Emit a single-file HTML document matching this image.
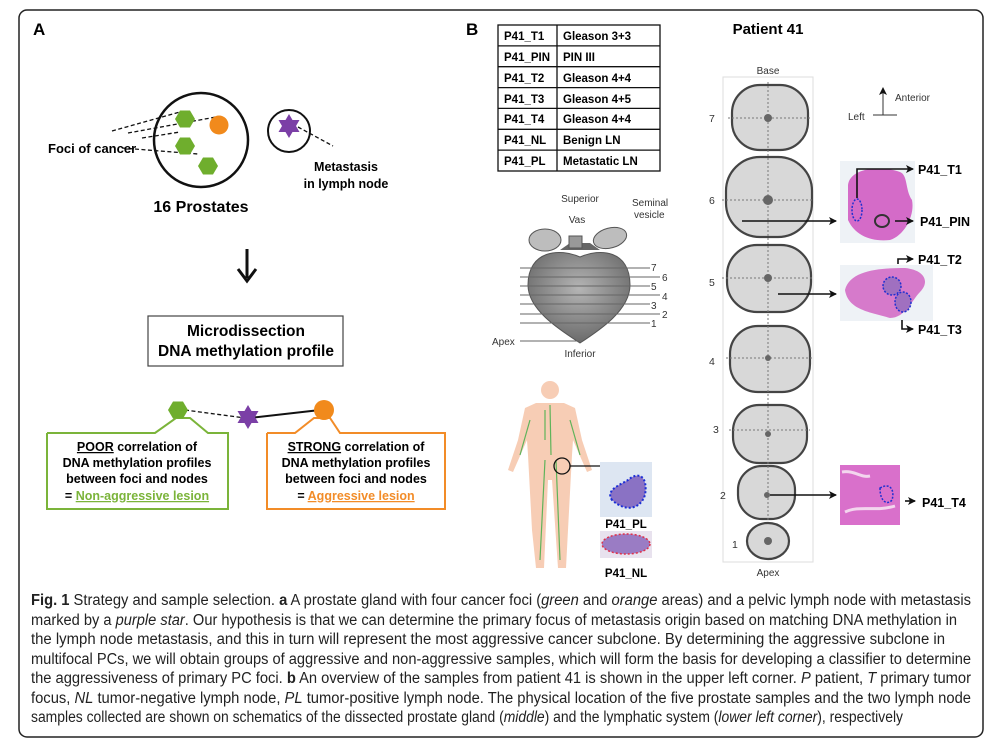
<!DOCTYPE html>
<html><head><meta charset="utf-8"><style>
html,body{margin:0;padding:0;background:#fff}
svg{display:block}
text{font-family:"Liberation Sans",Arial,sans-serif}
.b{font-weight:bold}
.cap{font-family:"Liberation Sans Narrow","Liberation Sans",sans-serif;font-size:15.5px;fill:#222}
</style></head><body>
<svg width="1003" height="745" viewBox="0 0 1003 745" xmlns="http://www.w3.org/2000/svg">
<defs>
<marker id="ah" markerWidth="8" markerHeight="8" refX="7" refY="4" orient="auto" markerUnits="userSpaceOnUse"><path d="M0,0 L8,4 L0,8 L2,4Z" fill="#111"/></marker>
<radialGradient id="hg" cx="0.5" cy="0.4" r="0.6"><stop offset="0" stop-color="#b5b5b5"/><stop offset="1" stop-color="#6a6a6a"/></radialGradient>
</defs>
<rect x="19" y="10" width="964" height="727" rx="8" fill="#fff" stroke="#222" stroke-width="1.5"/>

<!-- PANEL A -->
<text x="33" y="35" class="b" font-size="17">A</text>
<circle cx="201" cy="140" r="47" fill="none" stroke="#111" stroke-width="2.5"/>
<g stroke="#111" stroke-width="1.3" stroke-dasharray="4,2.5" fill="none">
<line x1="112" y1="131" x2="180" y2="112"/>
<line x1="128" y1="133" x2="216" y2="117"/>
<line x1="142" y1="138" x2="180" y2="132"/>
<line x1="122" y1="148" x2="198" y2="154"/>
<line x1="298" y1="127" x2="333" y2="146"/>
</g>
<g fill="#6fae2d">
<polygon points="175,119 180,110.5 190,110.5 195,119 190,127.5 180,127.5"/>
<polygon points="175,146 180,137.5 190,137.5 195,146 190,154.5 180,154.5"/>
<polygon points="198,166 203,157.5 213,157.5 218,166 213,174.5 203,174.5"/>
</g>
<circle cx="219" cy="125" r="9.5" fill="#f18a1c"/>
<circle cx="289" cy="131" r="21" fill="none" stroke="#111" stroke-width="2"/>
<polygon points="289,114 292.5,120 299.5,120 296,126 299.5,132 292.5,132 289,138 285.5,132 278.5,132 282,126 278.5,120 285.5,120" fill="#7b3fa6"/>
<text x="48" y="153" class="b" font-size="13">Foci of cancer</text>
<text x="346" y="171" class="b" font-size="12.5" text-anchor="middle">Metastasis</text>
<text x="346" y="188" class="b" font-size="12.5" text-anchor="middle">in lymph node</text>
<text x="201" y="212" class="b" font-size="16" text-anchor="middle">16 Prostates</text>
<line x1="247" y1="249" x2="247" y2="278" stroke="#111" stroke-width="3"/>
<path d="M238,269 L247,281 L256,269" fill="none" stroke="#111" stroke-width="3"/>
<rect x="148" y="316" width="195" height="50" fill="#fff" stroke="#444" stroke-width="1.2"/>
<text x="246" y="336" class="b" font-size="15.5" text-anchor="middle">Microdissection</text>
<text x="246" y="356" class="b" font-size="15.5" text-anchor="middle">DNA methylation profile</text>
<line x1="185" y1="410" x2="245" y2="418" stroke="#111" stroke-width="1.3" stroke-dasharray="4,2.5"/>
<line x1="250" y1="418" x2="320" y2="410" stroke="#111" stroke-width="2"/>
<polyline points="47,433 155,433 176,418 190,418 208,433 228,433 228,509 47,509 47,433" fill="#fff" stroke="#7bb43a" stroke-width="2"/>
<polyline points="267,433 295,433 314,418 330,418 340,433 445,433 445,509 267,509 267,433" fill="#fff" stroke="#f28c28" stroke-width="2"/>
<polygon points="168,410 173,401.5 183,401.5 188,410 183,418.5 173,418.5" fill="#6fae2d"/>
<circle cx="324" cy="410" r="10" fill="#f18a1c"/>
<polygon points="248,405 251.5,411 258.5,411 255,417 258.5,423 251.5,423 248,429 244.5,423 237.5,423 241,417 237.5,411 244.5,411" fill="#7b3fa6"/>
<g class="b" font-size="12.5" text-anchor="middle">
<text x="137" y="451"><tspan text-decoration="underline">POOR</tspan> correlation of</text>
<text x="137" y="467">DNA methylation profiles</text>
<text x="137" y="483">between foci and nodes</text>
<text x="137" y="500">= <tspan fill="#7bb43a" text-decoration="underline">Non-aggressive lesion</tspan></text>
<text x="356" y="451"><tspan text-decoration="underline">STRONG</tspan> correlation of</text>
<text x="356" y="467">DNA methylation profiles</text>
<text x="356" y="483">between foci and nodes</text>
<text x="356" y="500">= <tspan fill="#f28c28" text-decoration="underline">Aggressive lesion</tspan></text>
</g>

<!-- PANEL B -->
<text x="466" y="35" class="b" font-size="17">B</text>
<g stroke="#111" stroke-width="1.3" fill="none">
<rect x="498" y="25" width="162" height="146"/>
<line x1="557" y1="25" x2="557" y2="171"/>
<line x1="498" y1="45.9" x2="660" y2="45.9"/><line x1="498" y1="66.7" x2="660" y2="66.7"/>
<line x1="498" y1="87.6" x2="660" y2="87.6"/><line x1="498" y1="108.4" x2="660" y2="108.4"/>
<line x1="498" y1="129.3" x2="660" y2="129.3"/><line x1="498" y1="150.1" x2="660" y2="150.1"/>
</g>
<g class="b" font-size="11.5">
<text x="504" y="40">P41_T1</text><text x="563" y="40">Gleason 3+3</text>
<text x="504" y="61">P41_PIN</text><text x="563" y="61">PIN III</text>
<text x="504" y="82">P41_T2</text><text x="563" y="82">Gleason 4+4</text>
<text x="504" y="103">P41_T3</text><text x="563" y="103">Gleason 4+5</text>
<text x="504" y="123">P41_T4</text><text x="563" y="123">Gleason 4+4</text>
<text x="504" y="144">P41_NL</text><text x="563" y="144">Benign LN</text>
<text x="504" y="165">P41_PL</text><text x="563" y="165">Metastatic LN</text>
</g>
<text x="768" y="34" class="b" font-size="15" text-anchor="middle">Patient 41</text>

<!-- prostate side -->
<g font-size="10" fill="#333">
<text x="580" y="202" text-anchor="middle">Superior</text>
<text x="632" y="206">Seminal</text>
<text x="634" y="218">vesicle</text>
<text x="577" y="223" text-anchor="middle">Vas</text>
<text x="492" y="345">Apex</text>
<text x="580" y="357" text-anchor="middle">Inferior</text>
<text x="651" y="271">7</text><text x="662" y="281">6</text><text x="651" y="290">5</text><text x="662" y="300">4</text><text x="651" y="309">3</text><text x="662" y="318">2</text><text x="651" y="327">1</text>
</g>
<g fill="#bdbdbd" stroke="#555" stroke-width="1">
<ellipse cx="545" cy="240" rx="16" ry="11"/><ellipse cx="610" cy="238" rx="17" ry="10" transform="rotate(-15 610 238)"/>
<path d="M560,250 L600,250 L590,243 L570,243Z" fill="#666" stroke="none"/>
<rect x="569" y="236" width="13" height="12" fill="#999"/>
</g>
<path d="M580,257 C560,248 528,250 528,285 C528,310 560,330 580,343 C600,330 630,310 630,285 C630,250 600,248 580,257Z" fill="url(#hg)" stroke="#555"/>
<g stroke="#666" stroke-width="1">
<line x1="520" y1="268" x2="650" y2="268"/><line x1="520" y1="277" x2="660" y2="277"/><line x1="520" y1="286" x2="650" y2="286"/><line x1="520" y1="295" x2="660" y2="295"/><line x1="520" y1="304" x2="650" y2="304"/><line x1="520" y1="314" x2="660" y2="314"/><line x1="520" y1="323" x2="650" y2="323"/><line x1="520" y1="341" x2="580" y2="341"/>
</g>

<!-- body -->
<g fill="#f7cdb5">
<circle cx="550" cy="390" r="9"/>
<path d="M536,403 L564,403 L575,408 L582,440 L592,470 L587,472 L573,440 L572,455 L568,530 L566,568 L558,568 L552,480 L548,480 L544,568 L536,568 L532,530 L528,455 L527,440 L513,472 L508,470 L518,440 L525,408Z"/>
</g>
<g stroke="#5fb35a" stroke-width="1.2" fill="none">
<path d="M550,405 L551,455 M545,410 L545,440 M530,420 L520,455 M570,420 L580,455 M545,460 L540,560 M556,460 L560,560"/>
</g>
<circle cx="562" cy="466" r="8" fill="none" stroke="#111" stroke-width="1.3"/>
<polyline points="570,466 623,466 623,476" fill="none" stroke="#111" stroke-width="1.3" marker-end="url(#ah)"/>
<rect x="600" y="462" width="52" height="55" fill="#dde6f2"/>
<path d="M612,500 C605,490 620,485 628,480 C640,470 648,478 645,495 C640,510 625,512 612,500Z" fill="#8a72c4" stroke="#1b2fd6" stroke-width="2" stroke-dasharray="2,2"/>
<text x="626" y="528" class="b" font-size="11.5" text-anchor="middle">P41_PL</text>
<rect x="600" y="531" width="52" height="27" fill="#e8e2ee"/>
<ellipse cx="626" cy="544" rx="24" ry="10" fill="#9a7cc4" stroke="#e0304a" stroke-width="1.5" stroke-dasharray="2,2"/>
<text x="626" y="577" class="b" font-size="11.5" text-anchor="middle">P41_NL</text>

<!-- slices -->
<rect x="723" y="77" width="90" height="485" fill="none" stroke="#ddd" stroke-width="1"/>
<text x="768" y="74" font-size="10" fill="#333" text-anchor="middle">Base</text>
<text x="768" y="576" font-size="10" fill="#333" text-anchor="middle">Apex</text>
<g fill="#d8d8d8" stroke="#444" stroke-width="2.2">
<rect x="732" y="85" width="76" height="65" rx="28"/>
<rect x="726" y="157" width="86" height="80" rx="34"/>
<rect x="727" y="245" width="84" height="67" rx="30"/>
<rect x="730" y="326" width="80" height="66" rx="28"/>
<rect x="733" y="405" width="74" height="58" rx="26"/>
<rect x="738" y="466" width="57" height="53" rx="24"/>
<ellipse cx="768" cy="541" rx="21" ry="18"/>
</g>
<g stroke="#777" stroke-width="1" stroke-dasharray="2,2">
<line x1="768" y1="82" x2="768" y2="520"/>
<line x1="728" y1="118" x2="810" y2="118"/><line x1="722" y1="200" x2="814" y2="200"/><line x1="722" y1="278" x2="814" y2="278"/><line x1="726" y1="358" x2="812" y2="358"/><line x1="729" y1="430" x2="810" y2="430"/>
</g>
<g fill="#666"><circle cx="768" cy="118" r="4"/><circle cx="768" cy="200" r="5"/><circle cx="768" cy="278" r="4"/><circle cx="768" cy="358" r="3"/><circle cx="768" cy="434" r="3"/><circle cx="767" cy="495" r="3"/><circle cx="768" cy="541" r="4"/></g>
<g font-size="10.5" fill="#333">
<text x="709" y="122">7</text><text x="709" y="204">6</text><text x="709" y="286">5</text><text x="709" y="365">4</text><text x="713" y="433">3</text><text x="720" y="499">2</text><text x="732" y="548">1</text>
</g>
<!-- compass -->
<line x1="883" y1="115" x2="883" y2="88" stroke="#333" stroke-width="1" marker-end="url(#ah)"/>
<line x1="873" y1="115" x2="897" y2="115" stroke="#333" stroke-width="1"/>
<text x="895" y="101" font-size="10" fill="#333">Anterior</text>
<text x="848" y="120" font-size="10" fill="#333">Left</text>
<!-- histology -->
<rect x="840" y="161" width="75" height="82" fill="#eef2f6"/>
<path d="M848,185 C850,168 880,165 900,172 C908,175 905,190 912,200 C915,215 905,235 890,240 C870,242 855,235 848,220Z" fill="#d46bc8"/>
<ellipse cx="857" cy="210" rx="5" ry="11" fill="none" stroke="#2030d0" stroke-width="1.5" stroke-dasharray="2,1.5"/>
<ellipse cx="882" cy="221" rx="7" ry="6" fill="none" stroke="#333" stroke-width="2"/>
<rect x="840" y="265" width="93" height="56" fill="#eef2f6"/>
<path d="M845,290 C850,270 880,268 905,268 C925,270 930,282 920,292 C912,300 905,318 890,318 C870,312 848,310 845,290Z" fill="#d67acb"/>
<ellipse cx="892" cy="286" rx="9" ry="9" fill="#a070c0" stroke="#2030d0" stroke-width="1.5" stroke-dasharray="2,1.5"/>
<ellipse cx="903" cy="302" rx="8" ry="10" fill="#a070c0" stroke="#2030d0" stroke-width="1.5" stroke-dasharray="2,1.5"/>
<rect x="840" y="465" width="60" height="60" fill="#d970cb"/>
<path d="M842,472 C855,470 860,478 870,476 M845,512 C860,505 875,512 895,506" stroke="#f3d6ee" stroke-width="3" fill="none"/>
<path d="M880,488 C890,482 895,490 892,500 C888,505 880,503 880,488Z" fill="none" stroke="#2030d0" stroke-width="1.5" stroke-dasharray="2,1.5"/>
<g stroke="#111" stroke-width="1.6" fill="none">
<polyline points="742,221 836,221" marker-end="url(#ah)"/>
<polyline points="778,294 836,294" marker-end="url(#ah)"/>
<polyline points="770,495 836,495" marker-end="url(#ah)"/>
<polyline points="857,198 857,169 913,169" marker-end="url(#ah)"/>
<polyline points="895,221 913,221" marker-end="url(#ah)"/>
<polyline points="898,264 898,259 913,259" marker-end="url(#ah)"/>
<polyline points="902,320 902,329 913,329" marker-end="url(#ah)"/>
<polyline points="905,501 915,501" marker-end="url(#ah)"/>
</g>
<g class="b" font-size="12.5">
<text x="918" y="174">P41_T1</text>
<text x="920" y="226">P41_PIN</text>
<text x="918" y="264">P41_T2</text>
<text x="918" y="334">P41_T3</text>
<text x="922" y="507">P41_T4</text>
</g>

<!-- caption -->
<g class="cap">
<text x="31" y="605" textLength="940" lengthAdjust="spacingAndGlyphs"><tspan font-weight="bold">Fig. 1</tspan> Strategy and sample selection. <tspan font-weight="bold">a</tspan> A prostate gland with four cancer foci (<tspan font-style="italic">green</tspan> and <tspan font-style="italic">orange</tspan> areas) and a pelvic lymph node with metastasis</text>
<text x="31" y="625" textLength="926" lengthAdjust="spacingAndGlyphs">marked by a <tspan font-style="italic">purple star</tspan>. Our hypothesis is that we can determine the primary focus of metastasis origin based on matching DNA methylation in</text>
<text x="31" y="644" textLength="914" lengthAdjust="spacingAndGlyphs">the lymph node metastasis, and this in turn will represent the most aggressive cancer subclone. By determining the aggressive subclone in</text>
<text x="31" y="664" textLength="940" lengthAdjust="spacingAndGlyphs">multifocal PCs, we will obtain groups of aggressive and non-aggressive samples, which will form the basis for developing a classifier to determine</text>
<text x="31" y="683" textLength="940" lengthAdjust="spacingAndGlyphs">the aggressiveness of primary PC foci. <tspan font-weight="bold">b</tspan> An overview of the samples from patient 41 is shown in the upper left corner. <tspan font-style="italic">P</tspan> patient, <tspan font-style="italic">T</tspan> primary tumor</text>
<text x="31" y="703" textLength="940" lengthAdjust="spacingAndGlyphs">focus, <tspan font-style="italic">NL</tspan> tumor-negative lymph node, <tspan font-style="italic">PL</tspan> tumor-positive lymph node. The physical location of the five prostate samples and the two lymph node</text>
<text x="31" y="722" textLength="872" lengthAdjust="spacingAndGlyphs">samples collected are shown on schematics of the dissected prostate gland (<tspan font-style="italic">middle</tspan>) and the lymphatic system (<tspan font-style="italic">lower left corner</tspan>), respectively</text>
</g>
</svg>
</body></html>
